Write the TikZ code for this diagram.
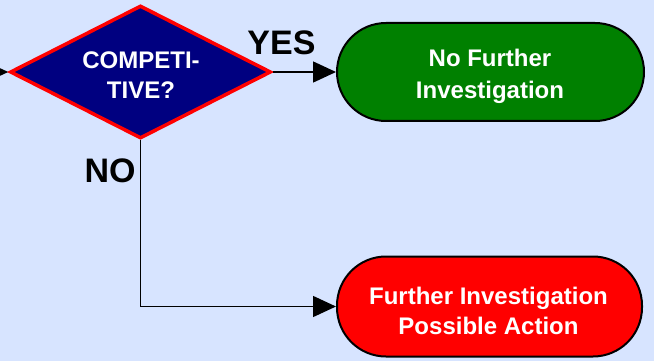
\documentclass[tikz,border=0pt]{standalone}
\usepackage{fontspec}
\setmainfont{Liberation Sans}
\usetikzlibrary{shapes.geometric,arrows.meta}
\definecolor{bgblue}{RGB}{215,228,255}
\definecolor{navy}{RGB}{0,0,128}
\definecolor{dkgreen}{RGB}{0,128,0}
\begin{document}
\begin{tikzpicture}[x=1pt,y=-1pt,
  decision/.style={diamond, draw=red, fill=navy, line width=3.5pt, minimum width=261pt, minimum height=133pt, inner sep=0pt},
  term/.style={rectangle, rounded corners=49pt, draw=black, line width=2pt, inner sep=0pt},
  intext/.style={text=white, align=center, inner sep=0pt},
  lbl/.style={font=\fontsize{34}{40}\selectfont\bfseries, inner sep=0pt, anchor=base},
  conn/.style={draw=black, line width=1.5pt, -{Triangle[length=23pt,width=21pt]}}
]
\useasboundingbox (0,0) rectangle (654,361);
\fill[bgblue] (0,0) rectangle (654,361);

\node[decision] (q) at (140.5,72) {};
\node[intext, font=\fontsize{24}{30}\selectfont\bfseries] (qtext) at (141,75) {COMPETI-\\TIVE?};

\node[term, fill=dkgreen, minimum width=307pt, minimum height=98pt] (yesbox) at (490.5,72) {};
\node[intext, font=\fontsize{24}{32}\selectfont\bfseries] (yestext) at (490,76.5) {No Further\\Investigation};

\node[term, fill=red, minimum width=305pt, minimum height=100pt] (nobox) at (489.5,306.5) {};
\node[intext, font=\fontsize{24}{29.5}\selectfont\bfseries] (notext) at (488.5,311) {Further Investigation\\Possible Action};

\node[lbl] (yes) at (281.5,55) {YES};
\node[lbl] (no) at (110,182.7) {NO};

\coordinate (in) at (-20,72);
\draw[conn] (in) -- (q.west);
\draw[conn] (q.east) -- (yesbox.west);
\draw[conn] (q.south) |- (nobox.west);
\end{tikzpicture}
\end{document}
